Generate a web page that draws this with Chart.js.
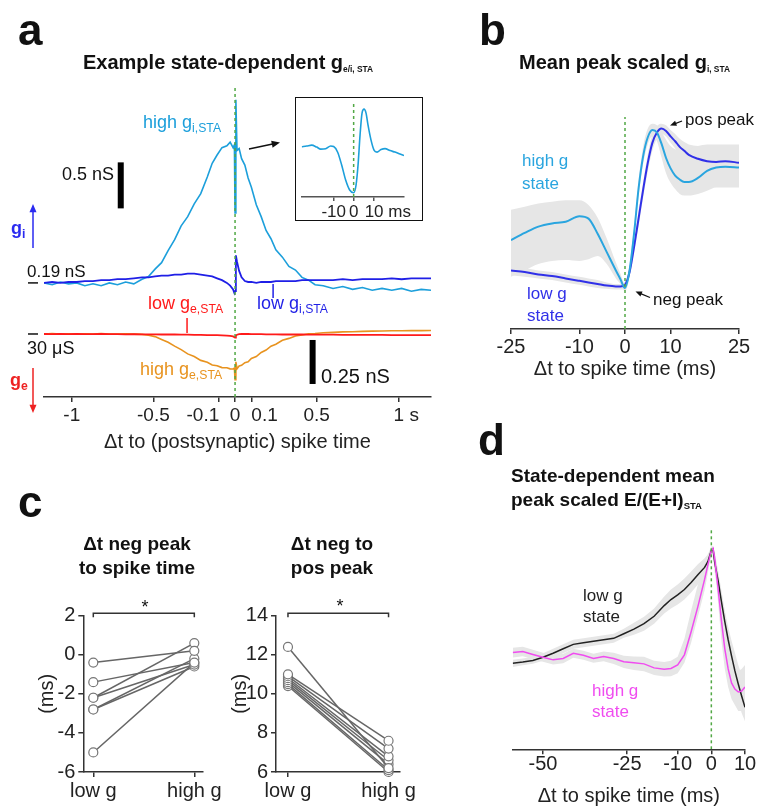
<!DOCTYPE html>
<html>
<head>
<meta charset="utf-8">
<title>State-dependent conductance STAs</title>
<script src="https://cdn.jsdelivr.net/npm/chart.js@4.4.1/dist/chart.umd.min.js"></script>
<style>
  html, body { margin: 0; padding: 0; background: #fff; overflow: hidden; }
  body { width: 757px; height: 807px; position: relative; font-family: "Liberation Sans", Arial, sans-serif; color: #111; }
  canvas { position: absolute; left: 0; top: 0; }
  .t { position: absolute; line-height: 1; white-space: nowrap; transform: translateY(-50%); }
  .ctr { transform: translate(-50%, -50%); text-align: center; }
  .blk { position: absolute; white-space: nowrap; }
  .b { font-weight: bold; }
  sub { font-size: 0.68em; vertical-align: -0.3em; line-height: 0; }
  sub.s { font-size: 0.42em; vertical-align: -0.4em; }
  sub.s2 { font-size: 0.5em; vertical-align: -0.35em; }
  #insetBox { position: absolute; left: 295px; top: 97px; width: 128px; height: 124px; border: 1.5px solid #111; box-sizing: border-box; }
</style>
</head>
<body>
<canvas id="chartA" width="757" height="807"></canvas>
<canvas id="chartInset" width="757" height="807"></canvas>
<canvas id="chartB" width="757" height="807"></canvas>
<canvas id="chartC1" width="757" height="807"></canvas>
<canvas id="chartC2" width="757" height="807"></canvas>
<canvas id="chartD" width="757" height="815"></canvas>
<div id="insetBox"></div>

<!-- panel letters and titles -->
<div class="t b" style="left:18px;top:30px;font-size:44px">a</div>
<div class="t b" style="left:479px;top:30px;font-size:44px">b</div>
<div class="t b" style="left:18px;top:502px;font-size:44px">c</div>
<div class="t b" style="left:478px;top:440px;font-size:44px">d</div>

<div class="t b" style="left:83px;top:62px;font-size:20px">Example state-dependent g<sub class="s">e/i, STA</sub></div>
<div class="t b" style="left:519px;top:62px;font-size:20px">Mean peak scaled g<sub class="s">i, STA</sub></div>
<div class="blk b" style="left:137px;top:532px;font-size:19px;line-height:24px;transform:translateX(-50%);text-align:center">Δt neg peak<br>to spike time</div>
<div class="blk b" style="left:332px;top:532px;font-size:19px;line-height:24px;transform:translateX(-50%);text-align:center">Δt neg to<br>pos peak</div>
<div class="blk b" style="left:511px;top:464px;font-size:19px;line-height:24px">State-dependent mean<br>peak scaled E/(E+I)<sub class="s2">STA</sub></div>

<!-- panel a labels -->
<div class="t" style="left:143px;top:122px;font-size:18px;color:#1c9fdb">high g<sub>i,STA</sub></div>
<div class="t" style="left:257px;top:303px;font-size:18px;color:#1f1fe6">low g<sub>i,STA</sub></div>
<div class="t" style="left:148px;top:303px;font-size:18px;color:#ff1a1a">low g<sub>e,STA</sub></div>
<div class="t" style="left:140px;top:369px;font-size:18px;color:#e8931f">high g<sub>e,STA</sub></div>
<div class="t" style="left:62px;top:174px;font-size:18px">0.5 nS</div>
<div class="t" style="left:27px;top:271px;font-size:17px">0.19 nS</div>
<div class="t" style="left:27px;top:348px;font-size:18px">30 μS</div>
<div class="t" style="left:321px;top:376px;font-size:20px">0.25 nS</div>
<div class="t b" style="left:11px;top:228px;font-size:18px;color:#2a2af0">g<sub>i</sub></div>
<div class="t b" style="left:10px;top:380px;font-size:18px;color:#ee2222">g<sub>e</sub></div>

<!-- panel b labels -->
<div class="blk" style="left:522px;top:149px;font-size:17px;line-height:23px;color:#2aa5df">high g<br>state</div>
<div class="blk" style="left:527px;top:283px;font-size:17px;line-height:22px;color:#3030e8">low g<br>state</div>
<div class="t" style="left:653px;top:299px;font-size:17px">neg peak</div>
<div class="t" style="left:685px;top:119px;font-size:17px">pos peak</div>

<!-- panel c significance marks -->
<div class="t ctr" style="left:145px;top:607px;font-size:18px">*</div>
<div class="t ctr" style="left:340px;top:606px;font-size:18px">*</div>

<!-- panel d labels -->
<div class="blk" style="left:583px;top:585px;font-size:17px;line-height:21px;color:#222">low g<br>state</div>
<div class="blk" style="left:592px;top:680px;font-size:17px;line-height:21px;color:#f04cf0">high g<br>state</div>

<script>
// ---- panel a: example STAs (time in s, conductance in nS) ----
const aTime = [-1.17, -1.12, -1.07, -1.02, -0.97, -0.92, -0.87, -0.82, -0.77, -0.72, -0.67, -0.62, -0.57, -0.53, -0.49, -0.45, -0.41, -0.37, -0.33, -0.29, -0.25, -0.21, -0.17, -0.14, -0.11, -0.08, -0.05, -0.03, -0.012, -0.004, 0, 0.005, 0.012, 0.025, 0.04, 0.06, 0.08, 0.1, 0.13, 0.16, 0.19, 0.22, 0.25, 0.29, 0.33, 0.37, 0.41, 0.45, 0.49, 0.54, 0.6, 0.66, 0.72, 0.78, 0.84, 0.9, 0.96, 1.02, 1.08, 1.14, 1.2];
const giHigh = [0.19, 0.17, 0.20, 0.18, 0.19, 0.16, 0.18, 0.16, 0.19, 0.17, 0.20, 0.18, 0.23, 0.26, 0.34, 0.41, 0.54, 0.66, 0.81, 0.91, 1.05, 1.16, 1.34, 1.49, 1.58, 1.66, 1.68, 1.72, 1.66, 1.69, 0.95, 2.18, 1.63, 1.65, 1.54, 1.47, 1.33, 1.23, 1.04, 0.91, 0.76, 0.67, 0.55, 0.47, 0.37, 0.33, 0.25, 0.22, 0.17, 0.16, 0.13, 0.15, 0.12, 0.14, 0.11, 0.13, 0.11, 0.13, 0.10, 0.12, 0.11];
const giLow = [0.19, 0.20, 0.19, 0.20, 0.20, 0.21, 0.21, 0.22, 0.22, 0.23, 0.23, 0.24, 0.25, 0.25, 0.26, 0.27, 0.27, 0.28, 0.28, 0.29, 0.29, 0.28, 0.27, 0.26, 0.24, 0.22, 0.19, 0.16, 0.12, 0.08, 0.10, 0.49, 0.42, 0.32, 0.25, 0.21, 0.20, 0.20, 0.19, 0.20, 0.20, 0.20, 0.21, 0.21, 0.21, 0.21, 0.22, 0.22, 0.22, 0.22, 0.22, 0.23, 0.22, 0.23, 0.23, 0.23, 0.24, 0.23, 0.24, 0.24, 0.24];
const geLow = [0.030, 0.031, 0.030, 0.031, 0.030, 0.031, 0.031, 0.030, 0.031, 0.031, 0.032, 0.031, 0.032, 0.032, 0.032, 0.033, 0.033, 0.033, 0.034, 0.034, 0.035, 0.035, 0.036, 0.036, 0.037, 0.038, 0.039, 0.041, 0.044, 0.048, 0.050, 0.040, 0.034, 0.031, 0.030, 0.030, 0.030, 0.031, 0.031, 0.031, 0.032, 0.032, 0.032, 0.033, 0.033, 0.033, 0.033, 0.034, 0.034, 0.034, 0.034, 0.035, 0.035, 0.035, 0.035, 0.035, 0.036, 0.036, 0.036, 0.036, 0.036];
const geHigh = [0.030, 0.028, 0.031, 0.029, 0.031, 0.029, 0.030, 0.028, 0.031, 0.030, 0.029, 0.031, 0.032, 0.037, 0.045, 0.061, 0.077, 0.099, 0.119, 0.143, 0.158, 0.180, 0.191, 0.206, 0.210, 0.221, 0.222, 0.228, 0.229, 0.224, 0.290, 0.188, 0.228, 0.212, 0.208, 0.193, 0.188, 0.169, 0.158, 0.135, 0.121, 0.099, 0.088, 0.066, 0.055, 0.041, 0.036, 0.029, 0.027, 0.023, 0.021, 0.018, 0.017, 0.015, 0.014, 0.013, 0.012, 0.012, 0.011, 0.011, 0.010];
const giBase = 0.19;
const geBase = 0.03;
const aTicks = [-1, -0.5, -0.1, 0, 0.1, 0.5, 1];
const aTickLabels = ['-1', '-0.5', '-0.1', '0', '0.1', '0.5', '1 s'];

// inset: high-g gi around the spike (ms, scaled)
const inTime = [-26, -23.5, -21, -18.5, -16.5, -14, -11.5, -10, -8, -6, -4, -2, 0, 1.2, 2.2, 3.2, 4.2, 5.2, 6.2, 7.2, 8.7, 10.2, 11.7, 13.7, 15.7, 18.2, 20.7, 23.2, 25.2];
const inVals = [0.572, 0.58, 0.59, 0.568, 0.545, 0.55, 0.58, 0.574, 0.51, 0.364, 0.193, 0.08, 0.049, 0.136, 0.364, 0.705, 0.955, 1.0, 0.955, 0.818, 0.648, 0.534, 0.511, 0.54, 0.551, 0.528, 0.511, 0.489, 0.472];
const inTicks = [-10, 0, 10];
const inTickLabels = ['-10', '0', '10 ms'];

// ---- panel b: mean peak-scaled gi STA ----
const tB = [-25, -22, -19, -16, -13, -10, -8, -6, -4, -2, -1, 0, 1, 2, 3, 4, 5, 6, 7, 8, 9, 10, 11, 12, 13, 14, 16, 18, 20, 22, 25];
const highB = [-0.40, -0.31, -0.23, -0.19, -0.17, -0.10, -0.13, -0.32, -0.55, -0.78, -0.89, -1.0, -0.78, -0.31, 0.26, 0.66, 0.89, 0.98, 0.95, 0.81, 0.63, 0.50, 0.41, 0.36, 0.33, 0.33, 0.38, 0.47, 0.51, 0.52, 0.51];
const highBHi = [-0.02, 0.02, 0.06, 0.08, 0.10, 0.10, 0.04, -0.12, -0.38, -0.68, -0.82, -0.95, -0.70, -0.22, 0.36, 0.78, 1.0, 1.06, 1.04, 0.96, 0.86, 0.78, 0.74, 0.72, 0.72, 0.74, 0.78, 0.80, 0.80, 0.80, 0.80];
const highBLo = [-0.86, -0.78, -0.70, -0.66, -0.65, -0.66, -0.64, -0.60, -0.70, -0.88, -0.95, -1.04, -0.86, -0.40, 0.16, 0.56, 0.80, 0.90, 0.84, 0.64, 0.44, 0.32, 0.24, 0.18, 0.16, 0.16, 0.18, 0.22, 0.26, 0.26, 0.26];
const lowB = [-0.78, -0.80, -0.83, -0.85, -0.88, -0.91, -0.93, -0.95, -0.97, -0.98, -0.98, -0.96, -0.80, -0.48, -0.12, 0.24, 0.57, 0.82, 0.95, 1.0, 0.97, 0.90, 0.84, 0.77, 0.72, 0.67, 0.62, 0.59, 0.58, 0.59, 0.57];
const lowBHi = [-0.72, -0.75, -0.78, -0.80, -0.83, -0.86, -0.88, -0.90, -0.93, -0.95, -0.95, -0.92, -0.74, -0.40, -0.02, 0.34, 0.68, 0.92, 1.03, 1.06, 1.04, 0.98, 0.93, 0.87, 0.83, 0.80, 0.78, 0.76, 0.76, 0.77, 0.77];
const lowBLo = [-0.84, -0.86, -0.88, -0.90, -0.93, -0.96, -0.98, -1.0, -1.01, -1.02, -1.02, -1.0, -0.86, -0.56, -0.22, 0.14, 0.46, 0.72, 0.87, 0.93, 0.90, 0.82, 0.75, 0.67, 0.61, 0.55, 0.48, 0.44, 0.42, 0.42, 0.40];
const bTicks = [-25, -10, 0, 10, 25];

// ---- panel c: paired peak timings (ms) ----
const cCats = ['low g', 'high g'];
const negPeakLow = [-0.4, -1.4, -2.2, -2.2, -2.8, -2.8, -5.0];
const negPeakHigh = [0.2, -0.4, 0.6, -0.5, -0.2, -0.6, -0.4];
const negPosLow = [12.4, 11.0, 10.9, 10.8, 10.7, 10.6, 10.5, 10.4];
const negPosHigh = [6.2, 7.6, 7.2, 6.8, 6.6, 6.4, 6.1, 6.0];

// ---- panel d: peak-scaled E/(E+I) STA ----
const tD = [-59, -56, -53, -50, -47, -44, -41, -38, -35, -32, -29, -26, -23, -20, -17, -14, -12, -10, -8, -6, -4, -2, -1, 0, 0.5, 1, 2, 3, 4, 5, 6, 7, 8, 9, 10];
const lowD = [0.428, 0.434, 0.442, 0.458, 0.478, 0.500, 0.522, 0.530, 0.538, 0.545, 0.552, 0.575, 0.598, 0.625, 0.662, 0.715, 0.745, 0.768, 0.795, 0.83, 0.868, 0.905, 0.935, 0.99, 0.995, 0.93, 0.84, 0.735, 0.635, 0.545, 0.465, 0.39, 0.325, 0.265, 0.209];
const lowDHi = [0.445, 0.452, 0.46, 0.478, 0.50, 0.522, 0.545, 0.553, 0.56, 0.568, 0.575, 0.60, 0.63, 0.66, 0.70, 0.76, 0.795, 0.82, 0.85, 0.885, 0.92, 0.95, 0.97, 1.01, 1.01, 0.98, 0.89, 0.79, 0.69, 0.61, 0.54, 0.48, 0.42, 0.37, 0.33];
const lowDLo = [0.41, 0.418, 0.425, 0.44, 0.455, 0.478, 0.50, 0.508, 0.515, 0.522, 0.53, 0.555, 0.57, 0.59, 0.625, 0.675, 0.70, 0.72, 0.745, 0.78, 0.82, 0.87, 0.91, 0.97, 0.98, 0.88, 0.78, 0.67, 0.56, 0.45, 0.37, 0.30, 0.24, 0.18, 0.14];
const highD = [0.481, 0.487, 0.472, 0.458, 0.445, 0.452, 0.478, 0.468, 0.452, 0.462, 0.452, 0.436, 0.430, 0.425, 0.405, 0.398, 0.402, 0.420, 0.47, 0.585, 0.71, 0.845, 0.92, 0.99, 1.0, 0.95, 0.80, 0.64, 0.50, 0.40, 0.33, 0.30, 0.285, 0.29, 0.31];
const highDHi = [0.505, 0.51, 0.495, 0.48, 0.468, 0.475, 0.50, 0.49, 0.475, 0.486, 0.48, 0.466, 0.462, 0.46, 0.44, 0.434, 0.44, 0.46, 0.55, 0.69, 0.82, 0.93, 0.97, 1.0, 1.01, 0.98, 0.86, 0.70, 0.56, 0.47, 0.42, 0.40, 0.39, 0.40, 0.42];
const highDLo = [0.457, 0.463, 0.448, 0.436, 0.422, 0.428, 0.455, 0.445, 0.43, 0.438, 0.424, 0.405, 0.395, 0.388, 0.37, 0.362, 0.364, 0.378, 0.43, 0.53, 0.66, 0.79, 0.88, 0.97, 0.98, 0.91, 0.73, 0.54, 0.40, 0.31, 0.25, 0.22, 0.19, 0.19, 0.20];
const dTicks = [-50, -25, -10, 0, 10];

// ---- styling ----
const GREEN = '#52a845';
const CYAN = '#1c9fdb';
const BLUE = '#1f1fe6';
const RED = '#ff1a1a';
const ORANGE = '#e8931f';
const BAND = '#e6e6e6';
const NONE = 'rgba(0,0,0,0)';

Chart.defaults.font.family = '"Liberation Sans", Arial, sans-serif';
Chart.defaults.font.size = 19;
Chart.defaults.color = '#222';
Chart.defaults.animation = false;
Chart.defaults.responsive = false;
Chart.defaults.plugins.legend.display = false;
Chart.defaults.plugins.tooltip.enabled = false;

function pts(xs, ys) {
  return xs.map((x, i) => ({ x: x, y: ys[i] }));
}

function vline(x, y0, y1, axis) {
  const d = { data: [{ x: x, y: y0 }, { x: x, y: y1 }], borderColor: GREEN, borderWidth: 1.5,
    borderDash: [3, 3], pointRadius: 0, order: 0 };
  if (axis) d.yAxisID = axis;
  return d;
}

function bottomAxis(o) {
  return {
    type: 'linear', min: o.min, max: o.max,
    afterBuildTicks: s => { s.ticks = o.ticks.map(v => ({ value: v })); },
    afterFit: s => { s.height = o.height; },
    ticks: { callback: o.label, padding: o.tickPad, font: { size: o.size }, color: '#222',
      maxRotation: 0, minRotation: 0, autoSkip: false },
    grid: { drawOnChartArea: false, tickLength: o.tickLength || 5, color: o.color || '#333', lineWidth: 1.5 },
    border: { color: o.color || '#333', width: 1.5 },
    title: o.title ? { display: true, text: o.title, font: { size: 20 }, color: '#222',
      padding: { top: 0, bottom: o.titlePad } } : { display: false }
  };
}

function segment(ctx, x1, y1, x2, y2, color, w) {
  ctx.strokeStyle = color;
  ctx.lineWidth = w;
  ctx.beginPath();
  ctx.moveTo(x1, y1);
  ctx.lineTo(x2, y2);
  ctx.stroke();
}

function arrow(ctx, x1, y1, x2, y2, color, w, head) {
  const a = Math.atan2(y2 - y1, x2 - x1);
  segment(ctx, x1, y1, x2 - Math.cos(a) * head * 0.7, y2 - Math.sin(a) * head * 0.7, color, w);
  ctx.fillStyle = color;
  ctx.beginPath();
  ctx.moveTo(x2, y2);
  ctx.lineTo(x2 - head * Math.cos(a - 0.4), y2 - head * Math.sin(a - 0.4));
  ctx.lineTo(x2 - head * Math.cos(a + 0.4), y2 - head * Math.sin(a + 0.4));
  ctx.closePath();
  ctx.fill();
}

// ---- panel a ----
const giRange = [-1.05, 2.33];
const geRange = [-1.379, 0.388];

const decoA = {
  id: 'decoA',
  afterDraw(chart) {
    const { ctx, scales: { x, yI, yE } } = chart;
    ctx.save();
    // scale bars: 0.5 nS for gi, 0.25 nS for ge
    ctx.fillStyle = '#000';
    let top = yI.getPixelForValue(1.5), bot = yI.getPixelForValue(1.0);
    ctx.fillRect(x.getPixelForValue(-0.7) - 3, top, 6, bot - top);
    top = yE.getPixelForValue(0.064); bot = yE.getPixelForValue(0.314);
    ctx.fillRect(x.getPixelForValue(0.475) - 3, top, 6, bot - top);
    // baseline markers
    segment(ctx, 28, yI.getPixelForValue(giBase), 38, yI.getPixelForValue(giBase), '#111', 1.5);
    segment(ctx, 28, yE.getPixelForValue(geBase), 38, yE.getPixelForValue(geBase), '#111', 1.5);
    // label leaders
    const xb = x.getPixelForValue(0.233), xr = x.getPixelForValue(-0.294);
    segment(ctx, xb, 284, xb, 298, BLUE, 1.5);
    segment(ctx, xr, 318, xr, 333, RED, 1.5);
    // arrows
    arrow(ctx, 249, 149, 280, 142.5, '#111', 1.5, 9);
    arrow(ctx, 33, 248, 33, 204, '#2a2af0', 1.5, 9);
    arrow(ctx, 33, 368, 33, 413, '#ee2222', 1.5, 9);
    ctx.restore();
  }
};

new Chart(document.getElementById('chartA'), {
  type: 'line',
  data: {
    datasets: [
      vline(0, giRange[0], giRange[1], 'yI'),
      { data: pts(aTime, geLow), yAxisID: 'yE', borderColor: RED, borderWidth: 1.8, pointRadius: 0, order: 1 },
      { data: pts(aTime, giLow), yAxisID: 'yI', borderColor: BLUE, borderWidth: 1.8, pointRadius: 0, order: 2 },
      { data: pts(aTime, geHigh), yAxisID: 'yE', borderColor: ORANGE, borderWidth: 1.6, pointRadius: 0, order: 3 },
      { data: pts(aTime, giHigh), yAxisID: 'yI', borderColor: CYAN, borderWidth: 1.6, pointRadius: 0, order: 4 }
    ]
  },
  options: {
    layout: { padding: { left: 44, right: 326, top: 86, bottom: 350 } },
    scales: {
      x: bottomAxis({
        min: -1.17, max: 1.2, ticks: aTicks, height: 60, tickPad: 2, size: 19,
        title: 'Δt to (postsynaptic) spike time', titlePad: 3,
        label: (v, i) => {
          const s = aTickLabels[i];
          if (v < 0 && v > -0.5) return s + '      ';
          if (v > 0 && v < 0.5) return '     ' + s;
          if (v === 1) return '   ' + s;
          return s;
        }
      }),
      yI: { type: 'linear', display: false, min: giRange[0], max: giRange[1] },
      yE: { type: 'linear', display: false, min: geRange[0], max: geRange[1], reverse: true }
    }
  },
  plugins: [decoA]
});

// inset
const inRange = [0, 1.07];
new Chart(document.getElementById('chartInset'), {
  type: 'line',
  data: {
    datasets: [
      vline(0, inRange[0], inRange[1]),
      { data: pts(inTime, inVals), borderColor: CYAN, borderWidth: 1.6, pointRadius: 0,
        cubicInterpolationMode: 'monotone', order: 1 }
    ]
  },
  options: {
    layout: { padding: { left: 301.7, right: 353, top: 103, bottom: 588 } },
    scales: {
      x: bottomAxis({
        min: -26, max: 25.2, ticks: inTicks, height: 22, tickPad: 1.5, size: 17, tickLength: 4, color: '#555',
        label: (v, i) => (v === 10 ? '      ' : '') + inTickLabels[i]
      }),
      y: { type: 'linear', display: false, min: inRange[0], max: inRange[1] }
    }
  }
});

// ---- panel b ----
const bRange = [-1.514, 1.144];
const decoB = {
  id: 'decoB',
  afterDraw(chart) {
    const ctx = chart.ctx;
    ctx.save();
    arrow(ctx, 682, 121, 670, 125.5, '#111', 1.3, 7);
    arrow(ctx, 650, 297.5, 635.5, 291.5, '#111', 1.3, 7);
    ctx.restore();
  }
};

const smooth = { pointRadius: 0, cubicInterpolationMode: 'monotone' };
new Chart(document.getElementById('chartB'), {
  type: 'line',
  data: {
    datasets: [
      vline(0, bRange[0], bRange[1]),
      Object.assign({ data: pts(tB, highB), borderColor: '#2aa5df', borderWidth: 2, order: 1 }, smooth),
      Object.assign({ data: pts(tB, lowB), borderColor: '#3030e8', borderWidth: 2, order: 2 }, smooth),
      Object.assign({ data: pts(tB, highBHi), borderColor: NONE, borderWidth: 0, backgroundColor: BAND, fill: 4, order: 5 }, smooth),
      Object.assign({ data: pts(tB, highBLo), borderColor: NONE, borderWidth: 0, order: 6 }, smooth),
      Object.assign({ data: pts(tB, lowBHi), borderColor: NONE, borderWidth: 0, backgroundColor: BAND, fill: 6, order: 7 }, smooth),
      Object.assign({ data: pts(tB, lowBLo), borderColor: NONE, borderWidth: 0, order: 8 }, smooth)
    ]
  },
  options: {
    layout: { padding: { left: 511, right: 18, top: 117, bottom: 423 } },
    scales: {
      x: bottomAxis({
        min: -25, max: 25, ticks: bTicks, height: 55, tickPad: 1, size: 20,
        title: 'Δt to spike time (ms)', titlePad: 3,
        label: (v) => String(v)
      }),
      y: { type: 'linear', display: false, min: bRange[0], max: bRange[1] }
    }
  },
  plugins: [decoB]
});

// ---- panel c ----
const bracket = {
  id: 'bracket',
  afterDraw(chart) {
    const { ctx, chartArea, scales: { x } } = chart;
    const y = chartArea.top - 2.5;
    const x0 = x.getPixelForValue(0), x1 = x.getPixelForValue(1);
    ctx.save();
    ctx.strokeStyle = '#333';
    ctx.lineWidth = 1.5;
    ctx.beginPath();
    ctx.moveTo(x0, y + 4);
    ctx.lineTo(x0, y);
    ctx.lineTo(x1, y);
    ctx.lineTo(x1, y + 4);
    ctx.stroke();
    ctx.restore();
  }
};

function pairChart(id, low, high, yMin, yMax, xMin, xMax, pad, axisWidth, titlePad) {
  const datasets = low.map((v, i) => ({
    data: [{ x: 0, y: v }, { x: 1, y: high[i] }],
    borderColor: '#666', borderWidth: 1.5,
    pointRadius: 4.5, pointBorderColor: '#777', pointBackgroundColor: '#fff', pointBorderWidth: 1.2,
    clip: false
  }));
  new Chart(document.getElementById(id), {
    type: 'line',
    data: { datasets: datasets },
    options: {
      layout: { padding: pad },
      scales: {
        x: bottomAxis({
          min: xMin, max: xMax, ticks: [0, 1], height: 35, tickPad: 2, size: 20,
          label: (v, i) => cCats[i]
        }),
        y: {
          type: 'linear', position: 'left', min: yMin, max: yMax,
          afterFit: s => { s.width = axisWidth; },
          ticks: { stepSize: 2, padding: 3, font: { size: 20 }, color: '#222' },
          grid: { drawOnChartArea: false, tickLength: 5, color: '#333', lineWidth: 1.5 },
          border: { color: '#333', width: 1.5 },
          title: { display: true, text: '(ms)', font: { size: 20 }, color: '#222',
            padding: { top: titlePad, bottom: 0 } }
        }
      }
    },
    plugins: [bracket]
  });
}

pairChart('chartC1', negPeakLow, negPeakHigh, -6, 2, -0.099, 1.086,
  { left: 20.3, right: 554, top: 615.7, bottom: 0 }, 63, 15);
pairChart('chartC2', negPosLow, negPosHigh, 6, 14, -0.119, 1.114,
  { left: 210, right: 357, top: 615.7, bottom: 0 }, 66, 18);

// ---- panel d ----
const dRange = [0, 1.091];
new Chart(document.getElementById('chartD'), {
  type: 'line',
  data: {
    datasets: [
      vline(0, dRange[0], dRange[1]),
      { data: pts(tD, highD), borderColor: '#f04cf0', borderWidth: 1.5, pointRadius: 0, order: 1 },
      { data: pts(tD, lowD), borderColor: '#222', borderWidth: 1.5, pointRadius: 0, order: 2 },
      { data: pts(tD, lowDHi), borderColor: NONE, borderWidth: 0, pointRadius: 0, backgroundColor: BAND, fill: 4, order: 5 },
      { data: pts(tD, lowDLo), borderColor: NONE, borderWidth: 0, pointRadius: 0, order: 6 },
      { data: pts(tD, highDHi), borderColor: NONE, borderWidth: 0, pointRadius: 0, backgroundColor: BAND, fill: 6, order: 7 },
      { data: pts(tD, highDLo), borderColor: NONE, borderWidth: 0, pointRadius: 0, order: 8 }
    ]
  },
  options: {
    layout: { padding: { left: 512.7, right: 12, top: 530, bottom: 0 } },
    scales: {
      x: bottomAxis({
        min: -59, max: 10, ticks: dTicks, height: 65.7, tickPad: -2, size: 20,
        title: 'Δt to spike time (ms)', titlePad: 6.6,
        label: (v) => String(v)
      }),
      y: { type: 'linear', display: false, min: dRange[0], max: dRange[1] }
    }
  }
});
</script>
</body>
</html>
